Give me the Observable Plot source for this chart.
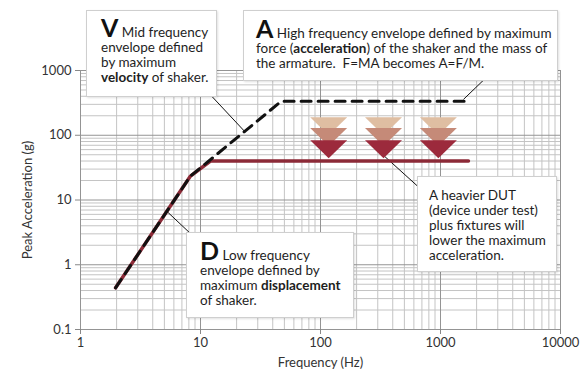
<!DOCTYPE html>
<html><head><meta charset="utf-8">
<script src="https://cdn.jsdelivr.net/npm/d3@7"></script>
<script src="https://cdn.jsdelivr.net/npm/@observablehq/plot@0.6"></script>
<style>
html,body{margin:0;padding:0;background:#fff;}
#wrap{position:relative;width:584px;height:379px;font-family:Lato,"Open Sans",sans-serif;}
.box{position:absolute;background:#fff;border:1px solid #cfcfcf;box-shadow:1px 1px 2px rgba(0,0,0,0.12);box-sizing:border-box;font-size:13.5px;line-height:15px;color:#1e1e1e;white-space:nowrap;}
.big{font-size:25px;font-weight:bold;line-height:0;color:#111;}
b{font-weight:bold;}
</style>
</head><body>
<div id="wrap"></div>
<script>
// Axis ticks
const xMajor = [1, 10, 100, 1000, 10000];
const yMajor = [0.1, 1, 10, 100, 1000];

// Black dashed envelope (displacement, velocity, acceleration limits)
const blackFreq = [1.96, 8.25, 47, 1710];
const blackAcc  = [0.44, 23.4, 334, 334];

// Maroon envelope for a heavier DUT
const maroonFreq = [1.96, 8.25, 12.1, 1710];
const maroonAcc  = [0.44, 23.4, 40, 40];

// Downward triangles (lowering of maximum acceleration)
const triFreq   = [117, 335, 960];
const triLevel  = [100, 68, 44];
const triColors = ["#dfbea2", "#c58a78", "#9c2a3c"];

// Annotation leader lines (data coordinates)
const leadFrom = [[10.6, 547], [2766, 1000], [5.31, 6.53], [643, 16.4]];
const leadTo   = [[23.7, 111], [1555, 358], [8.3, 3.0], [341, 47.5]];

// Minor grid values
const xMinor = [], yMinor = [];
for (const d of [1, 10, 100, 1000]) for (let k = 2; k <= 9; k++) xMinor.push(k * d);
for (const d of [0.1, 1, 10, 100]) for (let k = 2; k <= 9; k++) yMinor.push(+(k * d).toPrecision(3));

const blackData = blackFreq.map((f, i) => ({f, a: blackAcc[i]}));
const maroonData = maroonFreq.map((f, i) => ({f, a: maroonAcc[i]}));
const triData = [];
triLevel.forEach((lv, j) => triFreq.forEach(f => triData.push({f, a: lv, c: triColors[j]})));
const leads = leadFrom.map((p, i) => ({x1: p[0], y1: p[1], x2: leadTo[i][0], y2: leadTo[i][1]}));

const downTri = {draw(ctx) { ctx.moveTo(-18.5, -18); ctx.lineTo(18.5, -18); ctx.lineTo(0, 0); ctx.closePath(); }};

const fmt = d => String(d);

const chart = Plot.plot({
  width: 584, height: 379,
  marginLeft: 80, marginRight: 24, marginTop: 70, marginBottom: 50,
  style: {fontFamily: "Lato, 'Open Sans', sans-serif", fontSize: "13px", color: "#333", background: "#fff"},
  x: {type: "log", domain: [1, 10000]},
  y: {type: "log", domain: [0.1, 1000]},
  marks: [
    Plot.gridX(xMinor, {stroke: "#c4c4c4", strokeOpacity: 1}),
    Plot.gridY(yMinor, {stroke: "#c4c4c4", strokeOpacity: 1}),
    Plot.gridX(xMajor, {stroke: "#949494", strokeOpacity: 1}),
    Plot.gridY(yMajor, {stroke: "#949494", strokeOpacity: 1}),
    Plot.axisX(xMajor, {tickFormat: fmt, tickSize: 5, tickPadding: 3, stroke: "#888", fontSize: 13, label: "Frequency (Hz)", labelAnchor: "center", labelOffset: 37, labelArrow: "none"}),
    Plot.axisY(yMajor, {tickFormat: fmt, tickSize: 5, tickPadding: 4, stroke: "#888", fontSize: 13, label: "Peak Acceleration (g)", labelAnchor: "center", labelOffset: 58, labelArrow: "none"}),
    Plot.link(leads, {x1: "x1", y1: "y1", x2: "x2", y2: "y2", stroke: "#111", strokeWidth: 1}),
    Plot.dot(triData, {x: "f", y: "a", fill: "c", symbol: downTri, r: 10, stroke: null}),
    Plot.line(maroonData, {x: "f", y: "a", stroke: "#8c2a37", strokeWidth: 3.5}),
    Plot.line(blackData, {x: "f", y: "a", stroke: "#111", strokeWidth: 3, strokeDasharray: "10,7", strokeLinejoin: "miter"})
  ]
});

const wrap = document.getElementById("wrap");
chart.style.position = "absolute";
chart.style.left = "0"; chart.style.top = "0";
wrap.appendChild(chart);

const boxes = [
  {l: 86, t: 10, w: 131, h: 87, pl: 14, pt: 14, lh: 15,
   html: '<span class="big">V</span> Mid frequency<br>envelope defined<br>by maximum<br><b>velocity</b> of shaker.'},
  {l: 243, t: 10, w: 315, h: 71, pl: 12, pt: 15, lh: 15,
   html: '<span class="big">A</span> High frequency envelope defined by maximum<br>force (<b>acceleration</b>) of the shaker and the mass of<br>the armature.&nbsp; F=MA becomes A=F/M.'},
  {l: 186, t: 232, w: 168, h: 86, pl: 13, pt: 15, lh: 15,
   html: '<span class="big">D</span> Low frequency<br>envelope defined by<br>maximum <b>displacement</b><br>of shaker.'},
  {l: 417, t: 176, w: 140, h: 96, pl: 11, pt: 11, lh: 15,
   html: 'A heavier DUT<br>(device under test)<br>plus fixtures will<br>lower the maximum<br>acceleration.'}
];
for (const b of boxes) {
  const d = document.createElement("div");
  d.className = "box";
  Object.assign(d.style, {left: b.l + "px", top: b.t + "px", width: b.w + "px", height: b.h + "px",
    paddingLeft: b.pl + "px", paddingTop: b.pt + "px", lineHeight: b.lh + "px"});
  d.innerHTML = b.html;
  wrap.appendChild(d);
}
</script>
</body></html>
